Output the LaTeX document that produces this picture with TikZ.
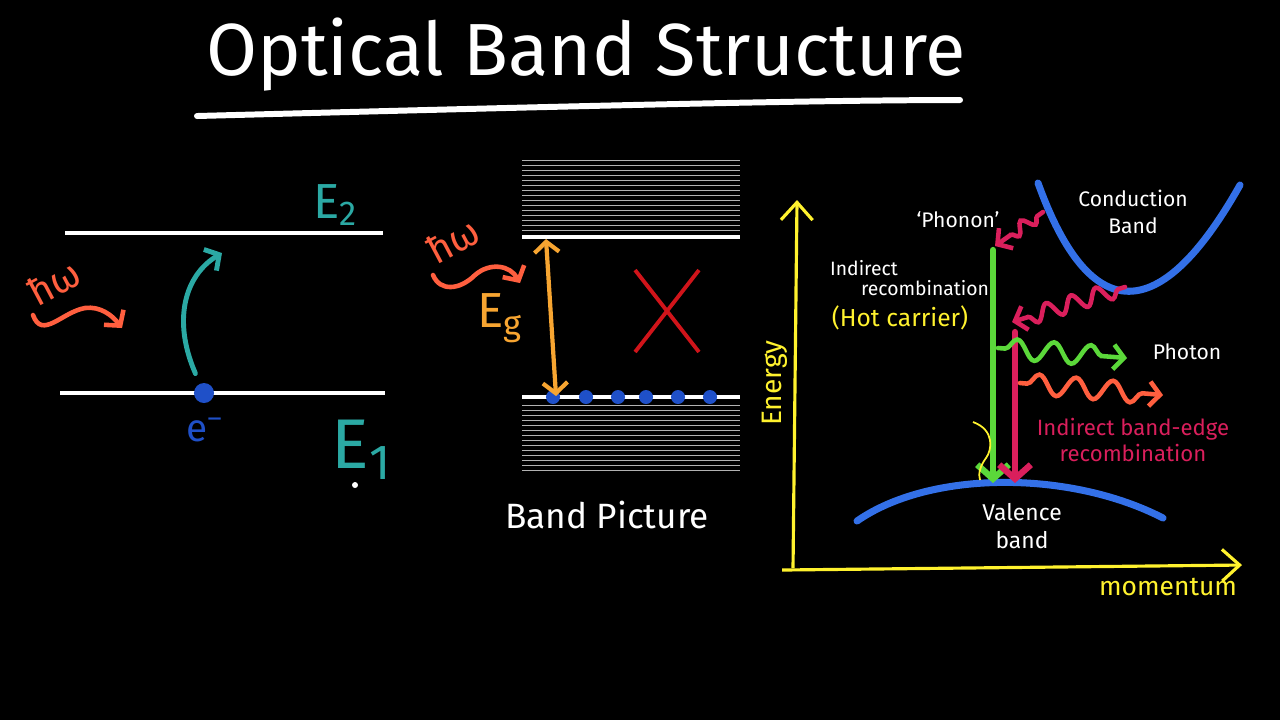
\documentclass[tikz,border=0pt]{standalone}
\usepackage{fontspec}
\setmainfont{Fira Sans}
\usepackage{tikz}
\usetikzlibrary{arrows.meta,positioning,calc,decorations.pathmorphing,shapes.misc}
\definecolor{levelteal}{HTML}{2BA9A4}
\definecolor{photonorange}{HTML}{FF5F3F}
\definecolor{gaporange}{HTML}{F7A531}
\definecolor{bandblue}{HTML}{3370E8}
\definecolor{dotblue}{HTML}{1F50C8}
\definecolor{crossred}{HTML}{D0141A}
\definecolor{phononpink}{HTML}{DA1F5C}
\definecolor{photongreen}{HTML}{5BD83A}
\definecolor{axisyellow}{HTML}{FFF22E}
\tikzstyle{hand} = [inner sep=1pt, align=center, text=white]
\tikzstyle{lvlline} = [draw=white, line width=1.15pt]
\tikzstyle{thinlvl} = [draw=white!70!black, line width=0.25pt]
\tikzstyle{electron} = [circle, fill=dotblue, inner sep=0pt, minimum size=0.2cm]
\tikzstyle{band} = [draw=bandblue, line width=2pt, line cap=round]
\tikzstyle{barb} = [-{Straight Barb[length=3pt,width=7pt]}, line cap=round]
\tikzstyle{wavy} = [decorate, decoration={snake, amplitude=0.06cm, segment length=0.2cm, pre length=2pt, post length=4pt}, line width=1.3pt, barb]

\begin{document}
\begin{tikzpicture}[x=0.01cm, y=-0.01cm, font=\sffamily]
\path[fill=black, use as bounding box] (0,0) rectangle (1280,720);

\node[hand, font=\fontsize{21}{24}\selectfont] (title) at (586,55) {Optical Band Structure};
\coordinate (ulA) at (197,116);
\coordinate (ulB) at (960,100);
\draw[white, line width=1.7pt, line cap=round] (ulA) .. controls (500,108) and (800,100) .. (ulB);

% two levels
\coordinate (e2L) at (65,233);
\coordinate (e2R) at (383,233);
\coordinate (e1L) at (60,393);
\coordinate (e1R) at (385,393);
\draw[lvlline] (e2L) -- (e2R);
\draw[lvlline] (e1L) -- (e1R);
\node[hand, text=levelteal, font=\fontsize{14}{16}\selectfont] (labE2) at (336,205) {E\textsubscript{2}};
\node[hand, text=levelteal, font=\fontsize{20}{22}\selectfont] (labE1) at (362,450) {E\textsubscript{1}};
\node[electron] (elec) at (204,393) {};
\node[hand, text=dotblue, font=\fontsize{11}{12}\selectfont] (labEl) at (205,430) {e\textsuperscript{–}};
\coordinate (exTop) at (222,253);
\draw[levelteal, line width=1.4pt, barb, shorten <=3pt] (elec) .. controls (172,320) and (185,275) .. (exTop);
\node[hand, text=photonorange, rotate=28, inner sep=0pt, font=\fontsize{11}{12}\selectfont] (hwA) at (54,282) {ħω};
\coordinate (hwAs) at (33,315);
\coordinate (hwAe) at (122,328);
\draw[photonorange, line width=1.3pt, barb] (hwAs) .. controls (42,340) and (62,312) .. (85,308) .. controls (100,306) and (112,315) .. (hwAe);
\fill[white] (355,485) circle (3);

% band picture
\foreach \y in {160,165,...,230} \draw[thinlvl] (522,\y) -- (740,\y);
\foreach \y in {405,410,...,473} \draw[thinlvl] (522,\y) -- (740,\y);
\coordinate (cbL) at (522,237);
\coordinate (cbR) at (740,237);
\coordinate (vbL) at (522,397);
\coordinate (vbR) at (740,397);
\draw[lvlline] (cbL) -- (cbR);
\draw[lvlline] (vbL) -- (vbR);
\foreach \x [count=\i] in {553,586,618,646,678,710}
  \node[electron, minimum size=0.14cm] (hole\i) at (\x,397) {};
\coordinate (egTop) at (546,239);
\coordinate (egBot) at (556,396);
\draw[gaporange, line width=1.2pt, {Straight Barb[length=3pt,width=7pt]}-{Straight Barb[length=3pt,width=7pt]}, line cap=round] (egTop) -- (egBot);
\node[hand, text=gaporange, font=\fontsize{14}{16}\selectfont] (labEg) at (500,318) {E\textsubscript{g}};
\node[hand, text=photonorange, rotate=28, inner sep=0pt, font=\fontsize{11}{12}\selectfont] (hwB) at (453,240) {ħω};
\coordinate (hwBs) at (433,275);
\coordinate (hwBe) at (520,283);
\draw[photonorange, line width=1.3pt, barb] (hwBs) .. controls (440,292) and (460,290) .. (475,275) .. controls (490,262) and (510,265) .. (hwBe);
\node[cross out, draw=crossred, line width=1.1pt, inner sep=0pt, minimum width=0.6cm, minimum height=0.78cm] (noGo) at (667,311) {};
\node[hand, font=\fontsize{10}{12}\selectfont] (labBand) at (607,515) {Band Picture};

% E-k diagram
\coordinate (origin) at (793,568);
\coordinate (yTop) at (797,200);
\coordinate (xStart) at (782,570);
\coordinate (xEnd) at (1242,565);
\draw[axisyellow, line width=0.9pt, -{Straight Barb[length=5pt,width=9pt]}] (origin) -- (yTop);
\draw[axisyellow, line width=0.9pt, -{Straight Barb[length=5pt,width=9pt]}] (xStart) -- (xEnd);
\node[hand, text=axisyellow, rotate=90, font=\fontsize{8}{9}\selectfont] (labEnergy) at (775,383) {Energy};
\node[hand, text=axisyellow, font=\fontsize{7.5}{9}\selectfont] (labMom) at (1168,587) {momentum};

\coordinate (cbA) at (1038,183);
\coordinate (cbB) at (1240,185);
\draw[band] (cbA) .. controls (1090,327) and (1160,327) .. (cbB);
\node[hand, font=\fontsize{6}{7.5}\selectfont] (labCond) at (1133,212) {Conduction\\Band};
\coordinate (vbA) at (857,521);
\coordinate (vbB) at (1163,518);
\draw[band] (vbA) .. controls (930,470) and (1070,470) .. (vbB);
\node[hand, font=\fontsize{6.5}{8}\selectfont] (labVal) at (1022,526) {Valence\\band};

\coordinate (gTop) at (993,250);
\coordinate (gBot) at (993,483);
\coordinate (pTop) at (1015,332);
\coordinate (pBot) at (1015,483);
\draw[photongreen, line width=1.8pt, -{Straight Barb[length=4pt,width=9pt]}, line cap=round] (gTop) -- (gBot);
\draw[phononpink, line width=1.8pt, -{Straight Barb[length=4pt,width=9pt]}, line cap=round] (pTop) -- (pBot);

\coordinate (ph1s) at (1043,212);
\coordinate (ph1e) at (995,246);
\coordinate (ph2s) at (1125,287);
\coordinate (ph2e) at (1012,322);
\draw[wavy, draw=phononpink] (ph1s) -- (ph1e);
\draw[wavy, draw=phononpink, decoration={amplitude=0.08cm, segment length=0.26cm}] (ph2s) -- (ph2e);
\coordinate (gws) at (998,348);
\coordinate (gwe) at (1127,358);
\coordinate (ows) at (1020,383);
\coordinate (owe) at (1163,395);
\draw[wavy, draw=photongreen, decoration={amplitude=0.1cm, segment length=0.37cm}] (gws) -- (gwe);
\draw[wavy, draw=photonorange, decoration={amplitude=0.1cm, segment length=0.37cm}] (ows) -- (owe);

\node[hand, font=\fontsize{6}{7.5}\selectfont] (labPhonon) at (958,220) {‘Phonon’};
\node[hand, font=\fontsize{6}{7.5}\selectfont] (labPhoton) at (1187,352) {Photon};
\node[hand, font=\fontsize{5.5}{7}\selectfont] (labInd) at (864,268) {Indirect};
\node[hand, font=\fontsize{5.5}{7}\selectfont] (labRec) at (925,288) {recombination};
\node[hand, text=axisyellow, font=\fontsize{7}{8}\selectfont] (labHot) at (900,318) {(Hot carrier)};
\node[hand, text=phononpink, font=\fontsize{6.3}{7.5}\selectfont] (labEdge) at (1133,440) {Indirect band-edge\\recombination};
\coordinate (sqA) at (973,422);
\coordinate (sqB) at (980,480);
\draw[axisyellow, line width=0.5pt] (sqA) .. controls (995,430) and (992,450) .. (986,458) .. controls (980,466) and (978,474) .. (sqB);
\end{tikzpicture}
\end{document}
